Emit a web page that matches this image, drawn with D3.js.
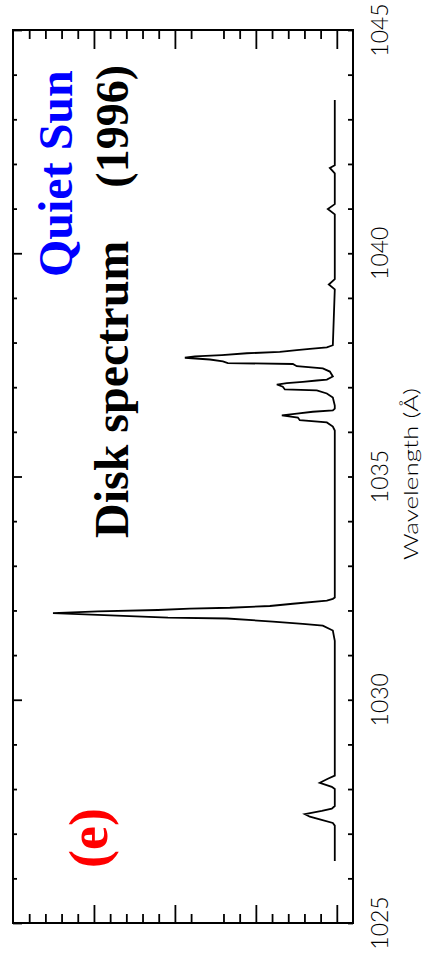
<!DOCTYPE html>
<html><head><meta charset="utf-8">
<script src="https://cdn.jsdelivr.net/npm/d3@7"></script>
<style>
html,body{margin:0;padding:0;background:#fff;}
svg{display:block;}
</style></head>
<body>
<svg id="chart" width="423" height="963"></svg>
<script>
// Wavelength (Å) and relative intensity
const wavelength = [1043.43, 1041.97, 1041.91, 1041.79, 1041.10, 1040.99, 1040.87, 1039.42, 1039.30, 1039.19,
  1037.94, 1037.89, 1037.86, 1037.83, 1037.79, 1037.76, 1037.72, 1037.69, 1037.66, 1037.62, 1037.58, 1037.54,
  1037.52, 1037.47, 1037.42, 1037.35, 1037.24, 1037.17, 1037.15, 1037.12, 1037.09, 1037.06, 1037.01, 1036.95,
  1036.93, 1036.86, 1036.77, 1036.59, 1036.52, 1036.48, 1036.45, 1036.41, 1036.37, 1036.32, 1036.26, 1036.21,
  1036.12, 1036.03, 1032.29, 1032.26, 1032.22, 1032.15, 1032.10, 1032.06, 1032.04, 1032.01, 1031.98, 1031.94,
  1031.84, 1031.82, 1031.75, 1031.70, 1031.66, 1031.55, 1031.32, 1028.30, 1028.23, 1028.14, 1028.05, 1028.00,
  1027.62, 1027.56, 1027.51, 1027.44, 1027.38, 1027.32, 1027.24, 1027.18, 1026.39];
const intensity = [0.025, 0.025, 0.086, 0.025, 0.025, 0.111, 0.025, 0.025, 0.099, 0.025,
  0.049, 0.123, 0.333, 0.494, 0.704, 1.111, 1.420, 1.753, 1.877, 1.568, 1.407, 1.346,
  0.543, 0.494, 0.173, 0.086, 0.049, 0.123, 0.247, 0.420, 0.617, 0.741, 0.667, 0.642,
  0.247, 0.123, 0.049, 0.025, 0.025, 0.049, 0.296, 0.494, 0.679, 0.481, 0.457, 0.123,
  0.049, 0.025, 0.025, 0.049, 0.123, 0.543, 0.827, 1.321, 1.815, 2.210, 2.951, 3.506,
  2.086, 1.358, 0.790, 0.420, 0.173, 0.049, 0.025, 0.025, 0.111, 0.210, 0.062, 0.025,
  0.025, 0.062, 0.185, 0.395, 0.333, 0.210, 0.049, 0.025, 0.025];

const wavelengthMajor = [1025, 1030, 1035, 1040, 1045];
const wavelengthLabels = ["1025", "1030", "1035", "1040", "1045"];
const wavelengthMinor = [1026,1027,1028,1029,1031,1032,1033,1034,1036,1037,1038,1039,1041,1042,1043,1044];
const intensityMajor = [0, 1, 2, 3];
const intensityMinor = [0.2,0.4,0.6,0.8,1.2,1.4,1.8,2.2,2.4,2.6,2.8,3.2,3.4,3.6,3.8];

const titleBlue = "Quiet Sun";
const titleBlack1 = "Disk spectrum";
const titleBlack2 = "(1996)";
const panelLabel = "(e)";
const axisTitle = "Wavelength (Å)";

const svg = d3.select("#chart");
const L = 13, R = 353, T = 30, B = 923;

// rotated layout: wavelength runs bottom->top, intensity runs right->left
const wScale = d3.scaleLinear().domain([1025, 1045]).range([B, T]);
const iScale = d3.scaleLinear().domain([-0.2, 4.0]).range([R, L]);

function styleAxis(g){
  g.select(".domain").remove();
  g.selectAll(".tick text").remove();
  g.selectAll(".tick line").attr("stroke", "#000").attr("stroke-width", 1.8);
}

// right side (original bottom) wavelength ticks
svg.append("g").attr("transform", `translate(${R},0)`)
  .call(d3.axisLeft(wScale).tickValues(wavelengthMajor.concat(wavelengthMinor)).tickSize(5).tickFormat(""))
  .call(styleAxis);
// left side (original top) ticks
svg.append("g").attr("transform", `translate(${L},0)`)
  .call(d3.axisRight(wScale).tickValues(wavelengthMinor).tickSize(4).tickFormat(""))
  .call(styleAxis);
svg.append("g").attr("transform", `translate(${L},0)`)
  .call(d3.axisRight(wScale).tickValues(wavelengthMajor).tickSize(9).tickFormat(""))
  .call(styleAxis);
// intensity ticks top and bottom
svg.append("g").attr("transform", `translate(0,${T})`)
  .call(d3.axisBottom(iScale).tickValues(intensityMinor).tickSize(9).tickFormat(""))
  .call(styleAxis);
svg.append("g").attr("transform", `translate(0,${T})`)
  .call(d3.axisBottom(iScale).tickValues(intensityMajor).tickSize(19).tickFormat(""))
  .call(styleAxis);
svg.append("g").attr("transform", `translate(0,${B})`)
  .call(d3.axisTop(iScale).tickValues(intensityMinor).tickSize(9).tickFormat(""))
  .call(styleAxis);
svg.append("g").attr("transform", `translate(0,${B})`)
  .call(d3.axisTop(iScale).tickValues(intensityMajor).tickSize(18).tickFormat(""))
  .call(styleAxis);

// frame
svg.append("rect").attr("x", L).attr("y", T).attr("width", R - L).attr("height", B - T)
  .attr("fill", "none").attr("stroke", "#000").attr("stroke-width", 2);

// spectrum
const pts = wavelength.map((w, i) => [w, intensity[i]]);
svg.append("path").datum(pts)
  .attr("fill", "none").attr("stroke", "#000").attr("stroke-width", 1.8)
  .attr("stroke-linejoin", "miter")
  .attr("d", d3.line().x(d => iScale(d[1])).y(d => wScale(d[0])));

// tick labels (rotated)
svg.selectAll("text.tl").data(wavelengthMajor).enter().append("text")
  .attr("class", "tl")
  .attr("transform", d => `translate(388,${wScale(d)}) rotate(-90)`)
  .attr("text-anchor", "middle")
  .attr("font-family", "Lato, 'DejaVu Sans', sans-serif")
  .attr("font-weight", 300)
  .attr("font-size", 23)
  .attr("fill", "#000")
  .text((d, i) => wavelengthLabels[i]);

svg.append("text")
  .attr("transform", `translate(418,474) rotate(-90)`)
  .attr("text-anchor", "middle")
  .attr("font-family", "Lato, 'DejaVu Sans', sans-serif")
  .attr("font-weight", 300)
  .attr("font-size", 20)
  .attr("textLength", 172).attr("lengthAdjust", "spacingAndGlyphs")
  .attr("fill", "#000")
  .text(axisTitle);

const serif = "'Liberation Serif', 'Times New Roman', serif";
svg.append("text")
  .attr("transform", `translate(72,277) rotate(-90)`)
  .attr("font-family", serif).attr("font-weight", "bold").attr("font-size", 48)
  .attr("fill", "#0000ff")
  .text(titleBlue);
svg.append("text")
  .attr("transform", `translate(128,538) rotate(-90)`)
  .attr("font-family", serif).attr("font-weight", "bold").attr("font-size", 48)
  .attr("fill", "#000")
  .text(titleBlack1);
svg.append("text")
  .attr("transform", `translate(128,65) rotate(-90)`)
  .attr("text-anchor", "end")
  .attr("font-family", serif).attr("font-weight", "bold").attr("font-size", 46)
  .attr("fill", "#000")
  .text(titleBlack2);
svg.append("text")
  .attr("transform", `translate(107,838) rotate(-90)`)
  .attr("text-anchor", "middle")
  .attr("font-family", serif).attr("font-weight", "bold").attr("font-size", 54)
  .attr("fill", "#ff0000")
  .text(panelLabel);
</script>
</body></html>
